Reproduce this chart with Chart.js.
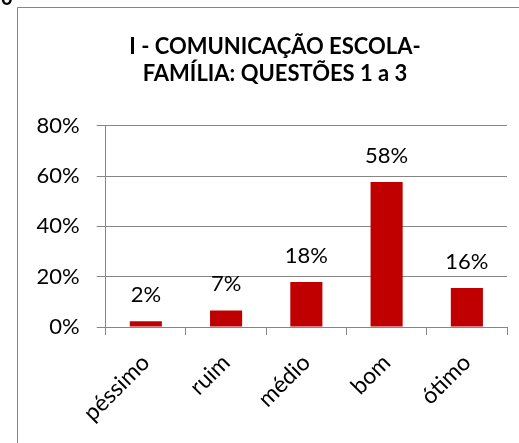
<!DOCTYPE html>
<html><head><meta charset="utf-8">
<script src="https://cdn.jsdelivr.net/npm/chart.js@4/dist/chart.umd.min.js"></script>
<style>html,body{margin:0;padding:0;background:#fff;overflow:hidden}#wrap{width:519px;height:443px;position:relative}canvas{display:block}</style>
</head><body><div id="wrap"><canvas id="c" width="519" height="443"></canvas></div>
<script>
const categories = ['péssimo', 'ruim', 'médio', 'bom', 'ótimo'];
const values = [2.3, 6.6, 17.9, 57.7, 15.5];
const yTicks = [0, 20, 40, 60, 80];
const titleLines = ['I - COMUNICAÇÃO ESCOLA-', 'FAMÍLIA: QUESTÕES 1 a 3'];
const cornerText = '0';

const FONT = 'Lato';
const GRID = '#868686';

const framePlugin = {
  id: 'frame',
  afterLayout(chart) {
    // centre the title a little to the right, as in the reference
    const t = chart.titleBlock;
    if (t) { t.left += 11.5; t.right += 11.5; }
  },
  beforeDraw(chart) {
    const ctx = chart.ctx;
    ctx.save();
    ctx.fillStyle = '#fff';
    ctx.fillRect(0, 0, chart.width, chart.height);
    ctx.strokeStyle = GRID;
    ctx.lineWidth = 1;
    ctx.beginPath();
    ctx.moveTo(17.5, chart.height);
    ctx.lineTo(17.5, 7.5);
    ctx.lineTo(chart.width, 7.5);
    ctx.stroke();
    ctx.fillStyle = '#000';
    ctx.font = 'bold 20px ' + FONT;
    ctx.textAlign = 'left';
    ctx.textBaseline = 'alphabetic';
    ctx.fillText(cornerText, 1, 5);
    ctx.restore();
  }
};

const labelPlugin = {
  id: 'barLabels',
  afterDatasetsDraw(chart) {
    const ctx = chart.ctx;
    const meta = chart.getDatasetMeta(0);
    ctx.save();
    ctx.font = '22px ' + FONT;
    ctx.fillStyle = '#000';
    ctx.textAlign = 'center';
    ctx.textBaseline = 'alphabetic';
    meta.data.forEach((bar, i) => {
      ctx.fillText(Math.round(values[i]) + '%', bar.x, bar.y - 19);
    });
    ctx.restore();
  }
};

new Chart(document.getElementById('c'), {
  type: 'bar',
  data: {
    labels: categories,
    datasets: [{
      data: values,
      backgroundColor: '#C00000',
      borderWidth: 0,
      categoryPercentage: 1,
      barPercentage: 0.4
    }]
  },
  options: {
    responsive: false,
    animation: false,
    devicePixelRatio: 1,
    layout: { padding: { left: 20, right: 12, top: 22, bottom: 0 } },
    plugins: {
      legend: { display: false },
      tooltip: { enabled: false },
      title: {
        display: true,
        text: titleLines,
        color: '#000',
        font: { family: FONT, size: 22, weight: 'bold', lineHeight: 1.2 },
        padding: { top: 12, bottom: 39 }
      }
    },
    scales: {
      x: {
        grid: { display: true, drawOnChartArea: false, drawTicks: true, tickLength: 8, color: GRID, offset: true },
        border: { display: true, color: GRID, width: 1 },
        ticks: { color: '#000', font: { family: FONT, size: 23 }, minRotation: 45, maxRotation: 45, padding: 14, autoSkip: false },
        afterFit(scale) { scale.height = 116; }
      },
      y: {
        min: 0, max: 80,
        grid: { color: GRID, drawTicks: true, tickLength: 9 },
        border: { display: true, color: GRID, width: 1 },
        ticks: { color: '#000', font: { family: FONT, size: 22 }, padding: 17, callback: v => v + '%' },
        afterBuildTicks(scale) { scale.ticks = yTicks.map(v => ({ value: v })); },
        afterFit(scale) { scale.width = 85.7; }
      }
    }
  },
  plugins: [framePlugin, labelPlugin]
});
</script></body></html>
